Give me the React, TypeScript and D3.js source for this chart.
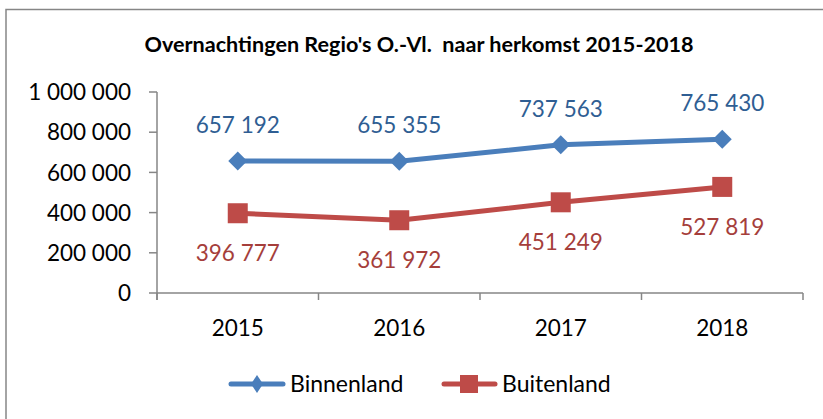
import React from "react";
import * as d3 from "d3";

const categories = ["2015", "2016", "2017", "2018"];
const binnenland = [657192, 655355, 737563, 765430];
const buitenland = [396777, 361972, 451249, 527819];
const yTicks = [0, 200000, 400000, 600000, 800000, 1000000];
const seriesNames = ["Binnenland", "Buitenland"];
const title = "Overnachtingen Regio's O.-Vl.  naar herkomst 2015-2018";

const W = 823;
const H = 419;
const FONT = "Lato, 'Open Sans', sans-serif";
const BLUE = "#4A7EBB";
const RED = "#BE4B48";
const BLUE_TXT = "#2F5E93";
const RED_TXT = "#A53E3B";
const AXIS = "#868686";

const fmt = (v: number) => d3.format(",")(v).replace(/,/g, " ");

export default function App() {
  const x = d3.scaleBand<string>().domain(categories).range([157, 803]);
  const y = d3.scaleLinear().domain([0, 1000000]).range([293, 92]);
  const cx = (c: string) => (x(c) as number) + x.bandwidth() / 2;
  const line = d3
    .line<number>()
    .x((_, i) => cx(categories[i]))
    .y((d) => y(d));

  const diamond = (px: number, py: number, r: number) =>
    `M${px},${py - r}L${px + r},${py}L${px},${py + r}L${px - r},${py}Z`;

  const boundaries = [...categories.map((c) => x(c) as number), 803];

  return (
    <svg
      width={W}
      height={H}
      style={{ position: "absolute", left: 0, top: 0, background: "#fff" }}
      fontFamily={FONT}
    >
      <rect x={0} y={0} width={W} height={H} fill="#fff" />
      <path d={`M6,${H + 5}V9.5H${W + 5}`} fill="none" stroke={AXIS} strokeWidth={1.5} />
      <text
        x={419}
        y={52}
        textAnchor="middle"
        fontWeight="bold"
        fontSize={21.6}
        fill="#000"
        style={{ whiteSpace: "pre" }}
      >
        {title}
      </text>

      {/* y axis */}
      <line x1={157} x2={157} y1={92} y2={300} stroke={AXIS} strokeWidth={1.5} />
      {yTicks.map((t) => (
        <g key={t}>
          <line x1={149} x2={157} y1={y(t)} y2={y(t)} stroke={AXIS} strokeWidth={1.5} />
          <text x={131} y={y(t)} dy="0.36em" textAnchor="end" fontSize={22.5} fill="#000">
            {fmt(t)}
          </text>
        </g>
      ))}
      {/* x axis */}
      <line x1={157} x2={803} y1={293} y2={293} stroke={AXIS} strokeWidth={1.5} />
      {boundaries.map((b, i) => (
        <line key={i} x1={b} x2={b} y1={293} y2={300} stroke={AXIS} strokeWidth={1.5} />
      ))}
      {categories.map((c) => (
        <text key={c} x={cx(c)} y={328} dy="0.36em" textAnchor="middle" fontSize={22.5} fill="#000">
          {c}
        </text>
      ))}

      {/* lines */}
      <path d={line(binnenland) || ""} fill="none" stroke={BLUE} strokeWidth={5} strokeLinejoin="round" />
      <path d={line(buitenland) || ""} fill="none" stroke={RED} strokeWidth={5} strokeLinejoin="round" />
      {binnenland.map((v, i) => (
        <g key={"b" + i}>
          <path d={diamond(cx(categories[i]), y(v), 9.5)} fill={BLUE} />
          <text
            x={cx(categories[i])}
            y={y(v) - 36}
            dy="0.36em"
            textAnchor="middle"
            fontSize={22.5}
            fill={BLUE_TXT}
          >
            {fmt(v)}
          </text>
        </g>
      ))}
      {buitenland.map((v, i) => (
        <g key={"r" + i}>
          <rect x={cx(categories[i]) - 10} y={y(v) - 10} width={20} height={20} fill={RED} />
          <text
            x={cx(categories[i])}
            y={y(v) + 40}
            dy="0.36em"
            textAnchor="middle"
            fontSize={22.5}
            fill={RED_TXT}
          >
            {fmt(v)}
          </text>
        </g>
      ))}

      {/* legend */}
      <g>
        <line x1={231} x2={283} y1={384} y2={384} stroke={BLUE} strokeWidth={5} strokeLinecap="round" />
        <path d={`M257,${384 - 9}L263,384L257,${384 + 9}L251,384Z`} fill={BLUE} />
        <text x={290} y={384} dy="0.36em" fontSize={23} fill="#000">
          {seriesNames[0]}
        </text>
        <line x1={444} x2={495} y1={384} y2={384} stroke={RED} strokeWidth={5} strokeLinecap="round" />
        <rect x={460} y={375} width={18} height={18} fill={RED} />
        <text x={502} y={384} dy="0.36em" fontSize={23} fill="#000">
          {seriesNames[1]}
        </text>
      </g>
    </svg>
  );
}
